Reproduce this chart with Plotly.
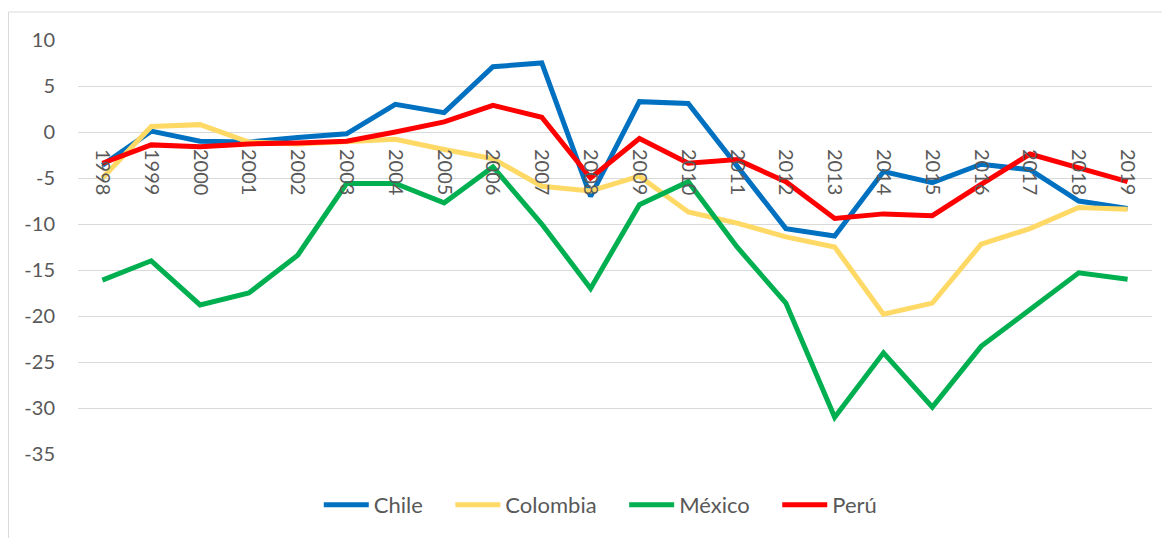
import plotly.graph_objects as go

years = [str(y) for y in range(1998, 2020)]

chile = [-3.6, 0.1, -1.0, -1.1, -0.6, -0.2, 3.0, 2.1, 7.1, 7.5, -7.0, 3.3,
         3.1, -3.7, -10.5, -11.3, -4.3, -5.5, -3.5, -4.1, -7.5, -8.3]
colombia = [-5.0, 0.6, 0.8, -1.1, -1.3, -1.1, -0.8, -1.9, -2.9, -5.9, -6.4, -4.8,
            -8.7, -9.9, -11.4, -12.5, -19.8, -18.6, -12.2, -10.5, -8.2, -8.4]
mexico = [-16.1, -14.0, -18.8, -17.5, -13.4, -5.6, -5.6, -7.7, -3.8, -10.0, -17.0, -7.9,
          -5.4, -12.5, -18.6, -31.0, -24.0, -29.9, -23.3, -19.3, -15.3, -16.0]
peru = [-3.4, -1.4, -1.6, -1.3, -1.2, -1.0, 0.0, 1.1, 2.9, 1.6, -5.0, -0.7,
        -3.4, -3.0, -5.4, -9.4, -8.9, -9.1, -5.7, -2.4, -3.9, -5.4]

y_ticks = [10, 5, 0, -5, -10, -15, -20, -25, -30, -35]
y_ticktext = [str(v) for v in y_ticks]  # plain hyphen like the original

series = [("Chile", chile, "#0070C0"),
          ("Colombia", colombia, "#FFD966"),
          ("México", mexico, "#00B050"),
          ("Perú", peru, "#FF0000")]

fig = go.Figure()
for name, vals, col in series:
    fig.add_trace(go.Scatter(x=years, y=vals, name=name + "\u00a0" * 4, mode="lines",
                             line=dict(color=col, width=5)))

# page body has an 8px margin, so the figure is sized to the visible area
font_txt = "Lato, 'Open Sans', sans-serif"
fig.update_layout(
    width=1162, height=530,
    margin=dict(l=70, r=18, t=32, b=84),
    paper_bgcolor="white", plot_bgcolor="white",
    font=dict(family=font_txt, color="#595959", size=20),
    showlegend=True,
    legend=dict(orientation="h", x=0.497, xanchor="center", y=-0.123, yanchor="middle",
                font=dict(size=22, color="#595959"), itemwidth=45, traceorder="normal"),
    xaxis=dict(type="category", anchor="free", position=35 / 45, range=[-0.5, 21.5],
               automargin=False, showgrid=False, showline=False, zeroline=False,
               tickangle=90, ticks="", ticklabelstandoff=16,
               tickfont=dict(size=20, color="#595959")),
    yaxis=dict(range=[-35, 10], tickvals=y_ticks, ticktext=y_ticktext,
               automargin=False, showgrid=True, gridcolor="#D9D9D9", gridwidth=1.3,
               zeroline=False, showline=False, ticks="", ticklabelstandoff=22,
               tickfont=dict(size=20, color="#595959")),
    shapes=[dict(type="rect", xref="paper", yref="paper",
                 x0=-0.0647, x1=1.05, y0=-0.3, y1=1.0676,
                 line=dict(color="#D9D9D9", width=1), layer="below")],
)

fig.write_html("out.html")
